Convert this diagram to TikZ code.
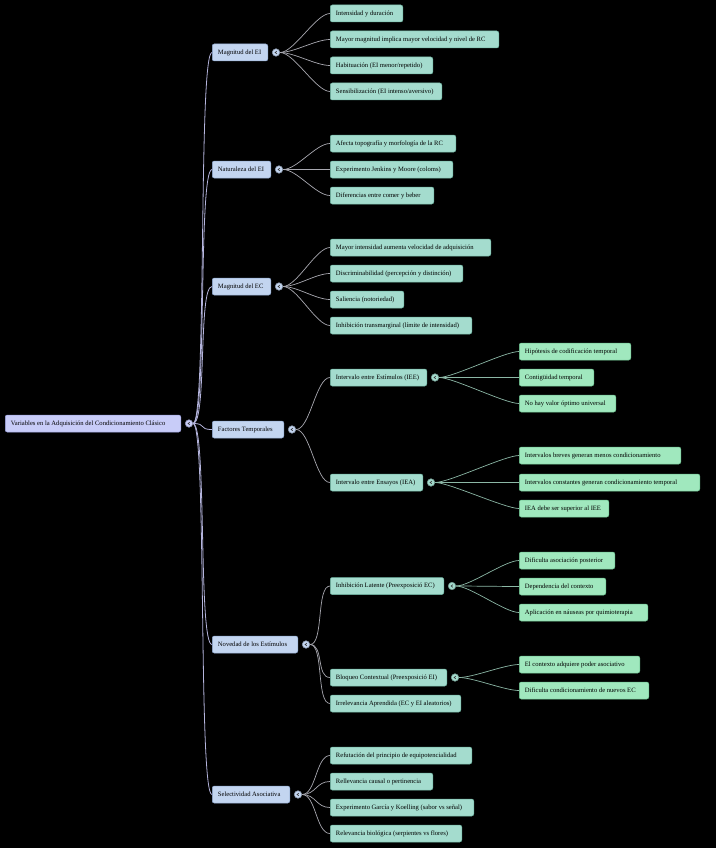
\documentclass[tikz,border=0pt]{standalone}
\usepackage{fontspec}
\setmainfont{Liberation Serif}
\definecolor{rootf}{HTML}{C8CCF8}
\definecolor{rootd}{HTML}{9EA4E0}
\definecolor{lonef}{HTML}{C3D5F0}
\definecolor{loned}{HTML}{8FA8D0}
\definecolor{ltwof}{HTML}{A4DCCE}
\definecolor{ltwod}{HTML}{6FB5A3}
\definecolor{lthrf}{HTML}{A0E8BE}
\definecolor{lthrd}{HTML}{6CC290}
\definecolor{erootc}{HTML}{B4B4DC}
\definecolor{eonec}{HTML}{A8A8B0}
\definecolor{etwoc}{HTML}{8CB8A6}
\tikzset{
  box/.style={rectangle, rounded corners=2pt, anchor=west, minimum height=17pt,
    inner xsep=5.7pt, inner ysep=0pt, font=\fontsize{6.6}{7}\selectfont, text=black, line width=0.5pt,
    execute at begin node={\hbox to \boxtw pt\bgroup},
    execute at end node={\hfil\egroup}},
  bw/.code={\pgfmathsetmacro\boxtw{#1-11.4-0.5}},
  rootbox/.style={box, fill=rootf, draw=rootd, bw=#1},
  onebox/.style={box, fill=lonef, draw=loned, bw=#1},
  twobox/.style={box, fill=ltwof, draw=ltwod, bw=#1},
  thrbox/.style={box, fill=lthrf, draw=lthrd, bw=#1},
  knob/.style={circle, minimum size=7.5pt, inner sep=0pt, line width=0.6pt},
  eroot/.style={draw=erootc, line width=0.8pt},
  eone/.style={draw=eonec, line width=0.7pt},
  etwo/.style={draw=etwoc, line width=0.7pt},
}
\newcommand{\knobat}[3]{% name, parent, colors
  \node[knob, fill=#3, draw=#3!70!black] (#1) at ([xshift=8pt]#2.east) {};
  \draw[line width=0.6pt, black!80] ([shift={(0.9pt,1.3pt)}]#1.center) -- ([shift={(-0.9pt,0pt)}]#1.center) -- ([shift={(0.9pt,-1.3pt)}]#1.center);
}
\newcommand{\link}[3]{% style, from, to
  \draw[#1] (#2.east) .. controls +(14pt,0pt) and +(-14pt,0pt) .. (#3.west);
}
\begin{document}
\begin{tikzpicture}[x=1pt,y=1pt]
\useasboundingbox (0,0) rectangle (716,-848);
\fill[black] (0,0) rectangle (716,-848);

% root
\node[rootbox=176] (root) at (5,-423.5) {Variables en la Adquisición del Condicionamiento Clásico};
\knobat{kroot}{root}{rootf}

% level 1
\node[onebox=56] (mei) at (212,-52.5) {Magnitud del EI};
\node[onebox=59] (nei) at (212,-169.5) {Naturaleza del EI};
\node[onebox=59] (mec) at (212,-286.5) {Magnitud del EC};
\node[onebox=72] (ft) at (212,-429.5) {Factores Temporales};
\node[onebox=86] (ne) at (212,-644.5) {Novedad de los Estímulos};
\node[onebox=78] (sa) at (212,-794.5) {Selectividad Asociativa};
\foreach \n in {mei,nei,mec,ft,ne,sa}{\link{eroot}{kroot}{\n}}
\knobat{kmei}{mei}{lonef}
\knobat{knei}{nei}{lonef}
\knobat{kmec}{mec}{lonef}
\knobat{kft}{ft}{lonef}
\knobat{kne}{ne}{lonef}
\knobat{ksa}{sa}{lonef}

% Magnitud del EI
\node[twobox=73] (a1) at (330,-13.5) {Intensidad y duración};
\node[twobox=169] (a2) at (330,-39.5) {Mayor magnitud implica mayor velocidad y nivel de RC};
\node[twobox=103] (a3) at (330,-65.5) {Habituación (EI menor/repetido)};
\node[twobox=112] (a4) at (330,-91.5) {Sensibilización (EI intenso/aversivo)};
\foreach \n in {a1,a2,a3,a4}{\link{eone}{kmei}{\n}}

% Naturaleza del EI
\node[twobox=126] (b1) at (330,-143.5) {Afecta topografía y morfología de la RC};
\node[twobox=123] (b2) at (330,-169.5) {Experimento Jenkins y Moore (coloms)};
\node[twobox=104] (b3) at (330,-195.5) {Diferencias entre comer y beber};
\foreach \n in {b1,b2,b3}{\link{eone}{knei}{\n}}

% Magnitud del EC
\node[twobox=161] (c1) at (330,-247.5) {Mayor intensidad aumenta velocidad de adquisición};
\node[twobox=133] (c2) at (330,-273.5) {Discriminabilidad (percepción y distinción)};
\node[twobox=74] (c3) at (330,-299.5) {Saliencia (notoriedad)};
\node[twobox=142] (c4) at (330,-325.5) {Inhibición transmarginal (límite de intensidad)};
\foreach \n in {c1,c2,c3,c4}{\link{eone}{kmec}{\n}}

% Factores Temporales
\node[twobox=97] (d1) at (330,-377.5) {Intervalo entre Estímulos (IEE)};
\node[twobox=93] (d2) at (330,-482.5) {Intervalo entre Ensayos (IEA)};
\foreach \n in {d1,d2}{\link{eone}{kft}{\n}}
\knobat{kd1}{d1}{ltwof}
\knobat{kd2}{d2}{ltwof}
\node[thrbox=112] (d11) at (519,-351.5) {Hipótesis de codificación temporal};
\node[thrbox=75] (d12) at (519,-377.5) {Contigüidad temporal};
\node[thrbox=97] (d13) at (519,-403.5) {No hay valor óptimo universal};
\foreach \n in {d11,d12,d13}{\link{etwo}{kd1}{\n}}
\node[thrbox=162] (d21) at (519,-455.5) {Intervalos breves generan menos condicionamiento};
\node[thrbox=181] (d22) at (519,-482.5) {Intervalos constantes generan condicionamiento temporal};
\node[thrbox=90] (d23) at (519,-508.5) {IEA debe ser superior al IEE};
\foreach \n in {d21,d22,d23}{\link{etwo}{kd2}{\n}}

% Novedad de los Estímulos
\node[twobox=114] (e1) at (330,-586) {Inhibición Latente (Preexposició EC)};
\node[twobox=117] (e2) at (330,-677.5) {Bloqueo Contextual (Preexposició EI)};
\node[twobox=131] (e3) at (330,-703.5) {Irrelevancia Aprendida (EC y EI aleatorios)};
\foreach \n in {e1,e2,e3}{\link{eone}{kne}{\n}}
\knobat{ke1}{e1}{ltwof}
\knobat{ke2}{e2}{ltwof}
\node[thrbox=96] (e11) at (519,-560.5) {Dificulta asociación posterior};
\node[thrbox=87] (e12) at (519,-586.5) {Dependencia del contexto};
\node[thrbox=129] (e13) at (519,-612.5) {Aplicación en náuseas por quimioterapia};
\foreach \n in {e11,e12,e13}{\link{etwo}{ke1}{\n}}
\node[thrbox=121] (e21) at (519,-664.5) {El contexto adquiere poder asociativo};
\node[thrbox=130] (e22) at (519,-690.5) {Dificulta condicionamiento de nuevos EC};
\foreach \n in {e21,e22}{\link{etwo}{ke2}{\n}}

% Selectividad Asociativa
\node[twobox=142] (f1) at (330,-755.5) {Refutación del principio de equipotencialidad};
\node[twobox=103] (f2) at (330,-781.5) {Rellevancia causal o pertinencia};
\node[twobox=144] (f3) at (330,-807.5) {Experimento García y Koelling (sabor vs señal)};
\node[twobox=132] (f4) at (330,-833.5) {Relevancia biológica (serpientes vs flores)};
\foreach \n in {f1,f2,f3,f4}{\link{eone}{ksa}{\n}}
\end{tikzpicture}
\end{document}
